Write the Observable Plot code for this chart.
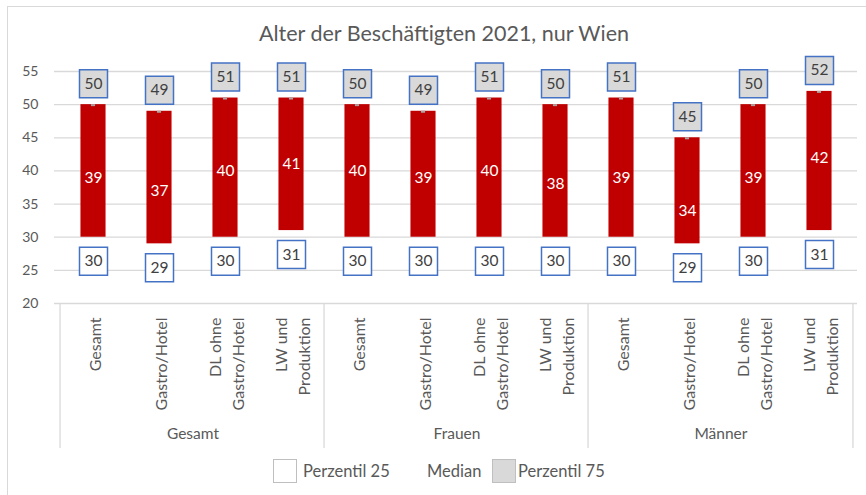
<!DOCTYPE html>
<html>
<head>
<meta charset="utf-8">
<script src="https://cdn.jsdelivr.net/npm/d3@7"></script>
<script src="https://cdn.jsdelivr.net/npm/@observablehq/plot@0.6"></script>
<style>
  html, body { margin: 0; padding: 0; background: #fff; }
  #wrap { position: relative; width: 866px; height: 495px; background: #fff; overflow: hidden; font-family: Lato, sans-serif; color: #595959; }
  #border { position: absolute; left: 7px; top: 6px; right: -10px; bottom: -10px; border: 1.5px solid #d9d9d9; }
  #title { position: absolute; top: 20px; left: 0; width: 888px; text-align: center; font-size: 21.5px; color: #595959; }
  #chart { position: absolute; top: 55px; left: 0; }
  .lg { position: absolute; font-size: 16.5px; color: #595959; line-height: 24px; top: 459px; }
  .sw { position: absolute; top: 459px; width: 22px; height: 22px; border: 1px solid #bfbfbf; }
</style>
</head>
<body>
<div id="wrap">
  <div id="border"></div>
  <div id="title">Alter der Beschäftigten 2021, nur Wien</div>
  <div id="chart"></div>
  <div class="sw" style="left:273px;background:#fff"></div>
  <div class="lg" style="left:303px">Perzentil 25</div>
  <div class="lg" style="left:427px">Median</div>
  <div class="sw" style="left:492px;background:#d9d9d9"></div>
  <div class="lg" style="left:518px">Perzentil 75</div>
</div>
<script>
const groups = ["Gesamt", "Frauen", "Männer"];
const sectors = ["Gesamt", "Gastro/Hotel", "DL ohne\nGastro/Hotel", "LW und\nProduktion"];
const p25 =    [30, 29, 30, 31, 30, 30, 30, 30, 30, 29, 30, 31];
const median = [39, 37, 40, 41, 40, 39, 40, 38, 39, 34, 39, 42];
const p75 =    [50, 49, 51, 51, 50, 49, 51, 50, 51, 45, 50, 52];
const yTicks = [20, 25, 30, 35, 40, 45, 50, 55];

const rows = [];
groups.forEach((g, gi) => sectors.forEach((s, si) => {
  const i = gi * sectors.length + si;
  rows.push({key: `${g}|${si}`, group: g, sector: s, p25: p25[i], median: median[i], p75: p75[i]});
}));
const keys = rows.map(d => d.key);

const W = 866, H = 400, ML = 54, MR = 9, MT = 16, MB = 152;
const step = (W - ML - MR) / keys.length;
const barW = 26;
const plotH = H - MT - MB;

const firstKeys = groups.map(g => `${g}|0`);
const lastKey = [`${groups[groups.length - 1]}|${sectors.length - 1}`];

const chart = Plot.plot({
  width: W, height: H,
  marginTop: MT, marginBottom: MB, marginLeft: ML, marginRight: MR,
  style: {fontFamily: "Lato, sans-serif", fontSize: "14px", color: "#595959", background: "transparent", overflow: "visible"},
  x: {domain: keys, padding: 0, axis: null},
  y: {domain: [20, 55], ticks: yTicks, tickSize: 0, tickPadding: 16, label: null},
  marks: [
    Plot.ruleY(yTicks, {stroke: "#d9d9d9", strokeWidth: 1.3}),
    Plot.ruleX(firstKeys, {x: d => d, dx: -step / 2, stroke: "#d9d9d9", strokeWidth: 1.3, insetTop: plotH, insetBottom: -145}),
    Plot.ruleX(lastKey, {x: d => d, dx: step / 2, stroke: "#d9d9d9", strokeWidth: 1.3, insetTop: plotH, insetBottom: -145}),
    Plot.barY(rows, {x: "key", y1: "p25", y2: "p75", fill: "#C00000", insetLeft: (step - barW) / 2, insetRight: (step - barW) / 2}),
    Plot.tickY(rows, {x: "key", y: "p75", stroke: "#a6a6a6", strokeWidth: 2, insetLeft: step / 2 - 2.5, insetRight: step / 2 - 2.5, dy: 0.5}),
    Plot.text(rows, {x: "key", y: "median", text: d => String(d.median), fill: "white", fontSize: 15.5}),
    Plot.dot(rows, {x: "key", y: "p75", dy: -21, symbol: "square", r: 15.8, fill: "#d9d9d9", stroke: "#4472C4", strokeWidth: 1.5}),
    Plot.text(rows, {x: "key", y: "p75", dy: -21, text: d => String(d.p75), fill: "#404040", fontSize: 15.5}),
    Plot.dot(rows, {x: "key", y: "p25", dy: 24, symbol: "square", r: 15.8, fill: "white", stroke: "#4472C4", strokeWidth: 1.5}),
    Plot.text(rows, {x: "key", y: "p25", dy: 24, text: d => String(d.p25), fill: "#404040", fontSize: 15.5}),
    Plot.text(rows, {x: "key", text: "sector", frameAnchor: "bottom", dy: 14, rotate: -90, textAnchor: "end", lineAnchor: "middle", lineHeight: 1.4, fontSize: 16, fill: "#595959"}),
    Plot.text(groups, {x: g => `${g}|1`, text: d => d, frameAnchor: "bottom", dx: step / 2, dy: 135, fontSize: 15.5, fill: "#595959"})
  ]
});
document.getElementById("chart").appendChild(chart);
</script>
</body>
</html>
